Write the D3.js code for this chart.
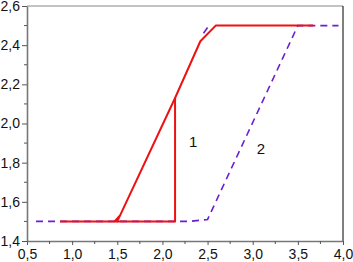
<!DOCTYPE html>
<html><head><meta charset="utf-8">
<script src="https://cdn.jsdelivr.net/npm/d3@7"></script>
<style>body{margin:0;background:#fff}svg{display:block}text{font-family:"Liberation Sans",Arial,sans-serif}</style>
</head><body>
<script>
const xTicks = [0.5,1.0,1.5,2.0,2.5,3.0,3.5,4.0];
const yTicks = [1.4,1.6,1.8,2.0,2.2,2.4,2.6];
// Curve 1 (red, solid)
const curve1a = [[0.865,1.5],[2.14,1.5],[2.14,2.13]];
const curve1b = [[1.47,1.5],[1.53,1.53],[1.5,1.5],[2.14,2.13],[2.42,2.42],[2.59,2.5],[3.67,2.5]];
// Curve 2 (purple, dashed)
const curve2a = [[0.6,1.5],[2.3,1.5],[2.5,1.51],[3.5,2.5],[3.95,2.5]];
const curve2b = [[2.5,2.49],[2.43,2.445]];
const labels = [{t:"1",x:2.34,y:1.9},{t:"2",x:3.09,y:1.865}];

const W=353,H=262;
const svg=d3.select("body").append("svg").attr("width",W).attr("height",H);
const x=d3.scaleLinear().domain([0.5,4]).range([27,343]);
const y=d3.scaleLinear().domain([1.4,2.6]).range([241,6]);
const fmt=d=>d3.format(".1f")(d).replace(".",",");

// frame
svg.append("line").attr("x1",x(0.5)).attr("x2",x(4)).attr("y1",y(2.6)).attr("y2",y(2.6)).attr("stroke","#888").attr("stroke-width",1);
svg.append("line").attr("x1",x(4)).attr("x2",x(4)).attr("y1",y(2.6)).attr("y2",y(1.4)).attr("stroke","#000").attr("stroke-width",1);

const line=d3.line().x(d=>x(d[0])).y(d=>y(d[1]));
[curve2a,curve2b].forEach(c=>svg.append("path").attr("d",line(c)).attr("fill","none").attr("stroke","#6a1fd0").attr("stroke-width",1.6).attr("stroke-dasharray","7,5"));
[curve1a,curve1b].forEach(c=>svg.append("path").attr("d",line(c)).attr("fill","none").attr("stroke","#ee1111").attr("stroke-width",2).attr("stroke-linejoin","round"));

// axes
const xAxis=d3.axisBottom(x).tickValues(xTicks).tickFormat(fmt).tickSize(4).tickSizeOuter(0);
const gx=svg.append("g").attr("transform",`translate(0,${y(1.4)})`).call(xAxis);
const yAxis=d3.axisLeft(y).tickValues(yTicks).tickFormat(fmt).tickSize(5).tickSizeOuter(0);
const gy=svg.append("g").attr("transform",`translate(${x(0.5)},0)`).call(yAxis);
[gx,gy].forEach(g=>{g.select(".domain").attr("stroke","#777").attr("stroke-width",1.6);
 g.selectAll(".tick line").attr("stroke","#555");
 g.selectAll("text").attr("font-size",14).attr("fill","#111").style("font-family","'Liberation Sans',Arial,sans-serif");});
gx.selectAll("text").attr("dy","0.95em").attr("y",5);
gy.selectAll("text").attr("x",-7);
// minor ticks
const xm=d3.range(0.75,4,0.5);
svg.append("g").selectAll("line").data(xm).join("line").attr("x1",d=>x(d)).attr("x2",d=>x(d)).attr("y1",y(1.4)).attr("y2",y(1.4)+3).attr("stroke","#555");
const ym=d3.range(1.5,2.6,0.2);
svg.append("g").selectAll("line").data(ym).join("line").attr("x1",x(0.5)-3).attr("x2",x(0.5)).attr("y1",d=>y(d)).attr("y2",d=>y(d)).attr("stroke","#555");

svg.append("g").selectAll("text").data(labels).join("text").attr("x",d=>x(d.x)).attr("y",d=>y(d.y)).attr("font-size",15).attr("text-anchor","middle").attr("dominant-baseline","middle").attr("fill","#111").text(d=>d.t);
</script>
</body></html>
